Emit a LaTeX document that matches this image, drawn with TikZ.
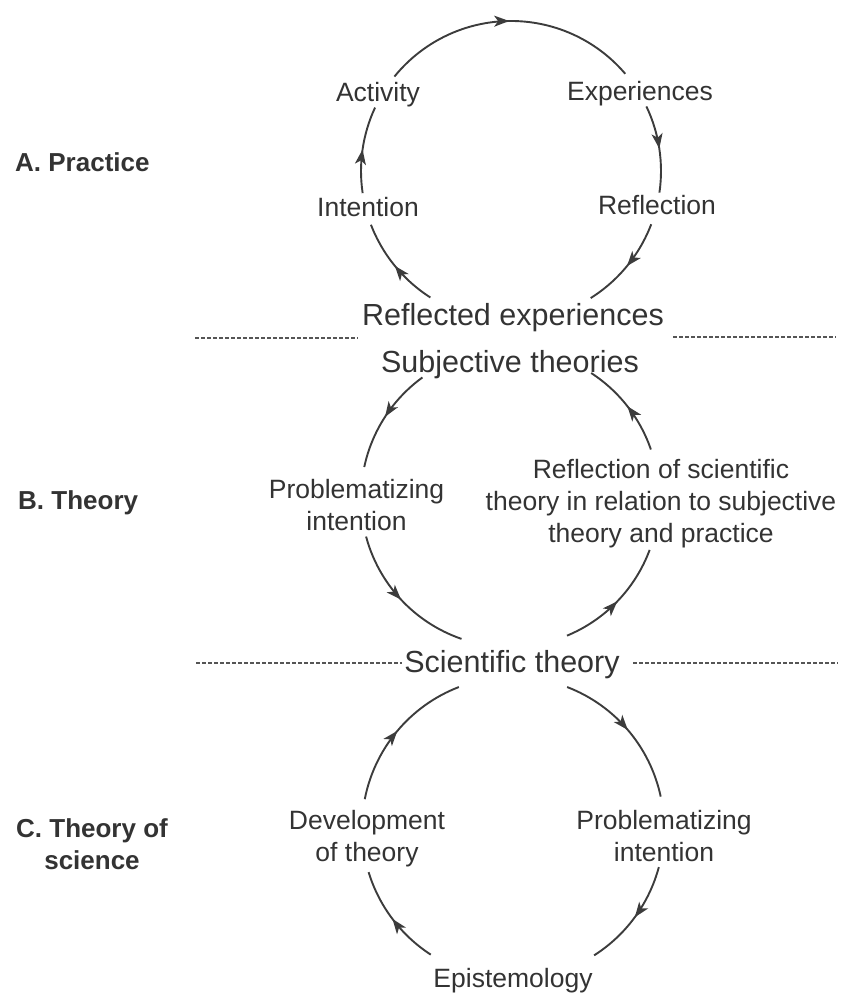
\documentclass[tikz,border=0pt]{standalone}
\usepackage{fontspec}
\setmainfont{Liberation Sans}
\usetikzlibrary{arrows.meta,decorations.markings}
\definecolor{inkc}{HTML}{333333}
\definecolor{linec}{HTML}{3C3C3C}
\definecolor{dashc}{HTML}{555555}
\begin{document}
\begin{tikzpicture}[x=1pt,y=1pt,
  lbl/.style={inner sep=0pt, text=inkc, font=\fontsize{26.5}{32}\selectfont, align=center},
  midlbl/.style={inner sep=0pt, text=inkc, font=\fontsize{30.5}{36}\selectfont},
  seclbl/.style={inner sep=0pt, text=inkc, font=\bfseries\fontsize{26}{32}\selectfont, align=center},
  cyc/.style={draw=linec, line width=1.9pt,
    postaction={decorate},
    decoration={markings, mark=at position 0.5 with {\arrow[linec]{Stealth[length=15pt,width=11pt,inset=4pt]}}}},
  sep/.style={draw=dashc, line width=1.8pt, dash pattern=on 4pt off 2pt}]
\useasboundingbox (0,0) rectangle (844,996);

% circle centres
\coordinate (cA) at (511,825);
\coordinate (cB) at (510,498);
\coordinate (cC) at (513,168);

% ---- A. Practice ----
\node[seclbl, anchor=base west] (secA) at (15,824) {A. Practice};
\node[lbl, anchor=base] (act) at (378,894) {Activity};
\node[lbl, anchor=base] (exp) at (640,895) {Experiences};
\node[lbl, anchor=base] (inten) at (368,779) {Intention};
\node[lbl, anchor=base] (refl) at (657,781) {Reflection};
\node[midlbl, anchor=base] (rexp) at (513,670) {Reflected experiences};

\draw[cyc] ([shift={(141:150pt)}]cA) arc[start angle=141, end angle=40.4, radius=150pt];
\draw[cyc] ([shift={(25.5:150pt)}]cA) arc[start angle=25.5, end angle=-8.3, radius=150pt];
\draw[cyc] ([shift={(-20.8:150pt)}]cA) arc[start angle=-20.8, end angle=-57.9, radius=150pt];
\draw[cyc] ([shift={(237.5:150pt)}]cA) arc[start angle=237.5, end angle=201, radius=150pt];
\draw[cyc] ([shift={(188.5:150pt)}]cA) arc[start angle=188.5, end angle=155, radius=150pt];

% separator 1
\coordinate (s1a) at (195,658);
\coordinate (s1b) at (358,658);
\coordinate (s1c) at (673,659);
\coordinate (s1d) at (836,659);
\draw[sep] (s1a) -- (s1b);
\draw[sep] (s1c) -- (s1d);

% ---- B. Theory ----
\node[seclbl, anchor=base west] (secB) at (18,486) {B. Theory};
\node[midlbl, anchor=base] (subj) at (510,623) {Subjective theories};
\node[lbl] (probB) at (356.5,490.6) {Problematizing\\intention};
\node[lbl] (reflB) at (661,492.8) {Reflection of scientific\\theory in relation to subjective\\theory and practice};
\node[midlbl, anchor=base] (sci) at (512,323) {Scientific theory};

\draw[cyc] ([shift={(126:149pt)}]cB) arc[start angle=126, end angle=168, radius=149pt];
\draw[cyc] ([shift={(195:149pt)}]cB) arc[start angle=195, end angle=251, radius=149pt];
\draw[cyc] ([shift={(292.5:149pt)}]cB) arc[start angle=292.5, end angle=339.6, radius=149pt];
\draw[cyc] ([shift={(19:149pt)}]cB) arc[start angle=19, end angle=57, radius=149pt];

% separator 2
\coordinate (s2a) at (196,333);
\coordinate (s2b) at (402,333);
\coordinate (s2c) at (633,333);
\coordinate (s2d) at (838,333);
\draw[sep] (s2a) -- (s2b);
\draw[sep] (s2c) -- (s2d);

% ---- C. Theory of science ----
\node[seclbl] (secC) at (92,151.5) {C. Theory of\\science};
\node[lbl] (dev) at (367,157) {Development\\of theory};
\node[lbl] (probC) at (664,159.6) {Problematizing\\intention};
\node[lbl, anchor=base] (epi) at (513,9) {Epistemology};

\draw[cyc] ([shift={(169:151pt)}]cC) arc[start angle=169, end angle=111, radius=151pt];
\draw[cyc] ([shift={(69:151pt)}]cC) arc[start angle=69, end angle=12, radius=151pt];
\draw[cyc] ([shift={(-15:151pt)}]cC) arc[start angle=-15, end angle=-57.5, radius=151pt];
\draw[cyc] ([shift={(237:151pt)}]cC) arc[start angle=237, end angle=197, radius=151pt];
\end{tikzpicture}
\end{document}
